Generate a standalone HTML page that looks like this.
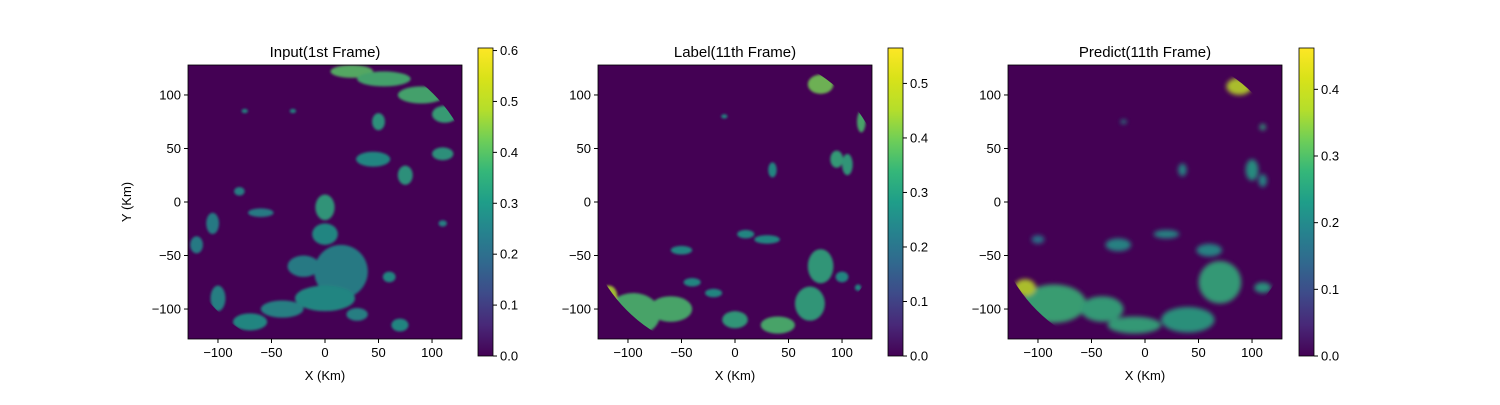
<!DOCTYPE html>
<html><head><meta charset="utf-8">
<style>
body{margin:0;background:#fff;font-family:"Liberation Sans",sans-serif;}
svg text{font-family:"Liberation Sans",sans-serif;}
</style></head>
<body>
<svg id="chart" width="1500" height="400" xmlns="http://www.w3.org/2000/svg">
<defs>
<linearGradient id="vir" x1="0" y1="1" x2="0" y2="0">
<stop offset="0" stop-color="#440154"/><stop offset="0.1" stop-color="#482878"/>
<stop offset="0.2" stop-color="#3e4a89"/><stop offset="0.3" stop-color="#31688e"/>
<stop offset="0.4" stop-color="#26828e"/><stop offset="0.5" stop-color="#1f9e89"/>
<stop offset="0.6" stop-color="#35b779"/><stop offset="0.7" stop-color="#6ece58"/>
<stop offset="0.8" stop-color="#b5de2b"/><stop offset="0.9" stop-color="#d8e219"/>
<stop offset="1" stop-color="#fde725"/>
</linearGradient>
<filter id="blur1"><feGaussianBlur stdDeviation="1.2"/></filter>
<filter id="blur3"><feGaussianBlur stdDeviation="2.5"/></filter>
</defs>
</svg>
<script>
// blobs: [x_km, y_km, rx_km, ry_km, value]
const inputBlobs = [
 [25,122,20,6,0.40],[55,115,25,7,0.38],[90,100,22,8,0.38],[112,82,12,8,0.36],
 [50,75,6,8,0.33],[110,45,10,6,0.33],[45,40,16,7,0.30],[75,25,7,9,0.33],[-80,10,5,4,0.28],
 [0,-5,9,12,0.34],[0,-30,12,10,0.30],[15,-65,25,25,0.27],[-20,-60,15,10,0.27],[0,-90,28,12,0.30],
 [-40,-100,20,8,0.28],[-70,-112,16,8,0.30],[-100,-90,7,12,0.28],[-105,-20,6,10,0.27],
 [-120,-40,6,8,0.27],[-60,-10,12,4,0.27],[60,-70,6,5,0.30],[70,-115,8,6,0.30],[30,-105,10,6,0.28],
 [110,-20,4,3,0.28],[-75,85,3,2,0.3],[-30,85,3,2,0.3]
];
const labelBlobs = [
 [80,110,12,9,0.40],[118,75,4,10,0.36],[95,40,6,8,0.33],[105,35,5,10,0.32],[35,30,4,7,0.28],
 [-95,-105,25,20,0.36],[-118,-88,8,10,0.45],[-60,-100,20,12,0.36],[-40,-75,8,4,0.28],[-50,-45,10,4,0.28],
 [10,-30,8,4,0.28],[30,-35,12,4,0.28],[80,-60,12,16,0.32],[70,-95,14,16,0.32],[40,-115,16,8,0.36],
 [0,-110,12,8,0.32],[100,-70,6,5,0.28],[-20,-85,8,4,0.28],[115,-80,3,3,0.28],[-10,80,3,2,0.28]
];
const predictBlobs = [
 [88,108,12,8,0.38],[110,70,3,3,0.26],[35,30,4,6,0.22],[100,30,6,10,0.24],[110,20,4,6,0.22],
 [-25,-40,12,6,0.22],[20,-30,12,4,0.22],[60,-45,12,6,0.22],[-85,-95,30,18,0.28],[-112,-80,10,8,0.38],
 [-40,-100,20,12,0.27],[-10,-115,25,8,0.27],[70,-75,20,20,0.27],[40,-110,25,12,0.25],
 [110,-80,8,5,0.25],[-100,-35,6,4,0.18],[-20,75,3,2,0.22]
];
const xTicks = [-100,-50,0,50,100];
const yTicks = [-100,-50,0,50,100];
const cbTicks1 = [0,0.1,0.2,0.3,0.4,0.5,0.6];
const cbTicks2 = [0,0.1,0.2,0.3,0.4,0.5];
const cbTicks3 = [0,0.1,0.2,0.3,0.4];
const cbMax = [0.605,0.565,0.462];
const titles = ["Input(1st Frame)","Label(11th Frame)","Predict(11th Frame)"];

const NS="http://www.w3.org/2000/svg";
const svg=document.getElementById('chart');
const stops=[[0,[68,1,84]],[0.1,[72,40,120]],[0.2,[62,74,137]],[0.3,[49,104,142]],[0.4,[38,130,142]],[0.5,[31,158,137]],[0.6,[53,183,121]],[0.7,[110,206,88]],[0.8,[181,222,43]],[0.9,[216,226,25]],[1,[253,231,37]]];
function vir(t){t=Math.max(0,Math.min(1,t));for(let i=1;i<stops.length;i++){if(t<=stops[i][0]){const a=stops[i-1],b=stops[i];const f=(t-a[0])/(b[0]-a[0]);const c=a[1].map((v,k)=>Math.round(v+(b[1][k]-v)*f));return `rgb(${c})`;}}return 'rgb(253,231,37)';}
function el(tag,attrs,parent){const e=document.createElementNS(NS,tag);for(const k in attrs)e.setAttribute(k,attrs[k]);(parent||svg).appendChild(e);return e;}
const panels=[{x0:188,blobs:inputBlobs,cb:478,ticks:cbTicks1,blur:'blur1'},{x0:598,blobs:labelBlobs,cb:888,ticks:cbTicks2,blur:'blur1'},{x0:1008,blobs:predictBlobs,cb:1299,ticks:cbTicks3,blur:'blur3'}];
const topY=65,W=274,H=274,cbTop=48,cbBot=356;
panels.forEach((p,i)=>{
 const sx=v=>p.x0+(v+128)/256*W, sy=v=>topY+(128-v)/256*H, k=W/256;
 const g=el('g',{});
 
 
 const bg=el('rect',{x:p.x0,y:topY,width:W,height:H,fill:'#440154'},g);
 
 
 const cc=el('clipPath',{id:'circ'+i},g);
 el('circle',{cx:sx(0),cy:sy(0),r:143*k},cc);
 const cr=el('clipPath',{id:'clip'+i},g);
 el('rect',{x:p.x0,y:topY,width:W,height:H},cr);
 const outer=el('g',{'clip-path':`url(#clip${i})`},g);
 const bl=el('g',{'clip-path':`url(#circ${i})`},outer);
 const bi=el('g',{filter:`url(#${p.blur})`,opacity:0.85},bl);
 p.blobs.forEach(b=>{
  const e=el('ellipse',{cx:sx(b[0]),cy:sy(b[1]),rx:b[2]*k,ry:b[3]*k,fill:vir(b[4]/cbMax[i])},bi);
  
  
 });
 el('rect',{x:p.x0,y:topY,width:W,height:H,fill:'none',stroke:'#000','stroke-width':0.8},g);
 xTicks.forEach(t=>{
  el('line',{x1:sx(t),x2:sx(t),y1:topY+H,y2:topY+H+4,stroke:'#000'},g);
  const tx=el('text',{x:sx(t),y:topY+H+18,'font-size':13,'text-anchor':'middle'},g);tx.textContent=t<0?'\u2212'+(-t):t;
  
  
 });
 yTicks.forEach(t=>{
  el('line',{x1:p.x0-4,x2:p.x0,y1:sy(t),y2:sy(t),stroke:'#000'},g);
  const tx=el('text',{x:p.x0-7,y:sy(t)+4.5,'font-size':13,'text-anchor':'end'},g);tx.textContent=t<0?'\u2212'+(-t):t;
  
  
 });
 const xt=el('text',{x:p.x0+W/2,y:380,'font-size':13,'text-anchor':'middle'},g);xt.textContent='X (Km)';
 
 
 if(i===0){const yt=el('text',{x:131,y:topY+H/2,'font-size':13,'text-anchor':'middle',transform:`rotate(-90 131 ${topY+H/2})`},g);yt.textContent='Y (Km)';
  
  }
 const tt=el('text',{x:p.x0+W/2,y:57,'font-size':15,'text-anchor':'middle'},g);tt.textContent=titles[i];
 
 
 const cb=el('rect',{x:p.cb,y:cbTop,width:15,height:cbBot-cbTop,fill:'url(#vir)',stroke:'#000','stroke-width':0.8},g);
 
 
 p.ticks.forEach(t=>{
  const y=cbBot-t/cbMax[i]*(cbBot-cbTop);
  el('line',{x1:p.cb+15,x2:p.cb+19,y1:y,y2:y,stroke:'#000'},g);
  const tx=el('text',{x:p.cb+22,y:y+4.5,'font-size':13},g);tx.textContent=t.toFixed(1);
  
  
 });
});
</script>
</body></html>
